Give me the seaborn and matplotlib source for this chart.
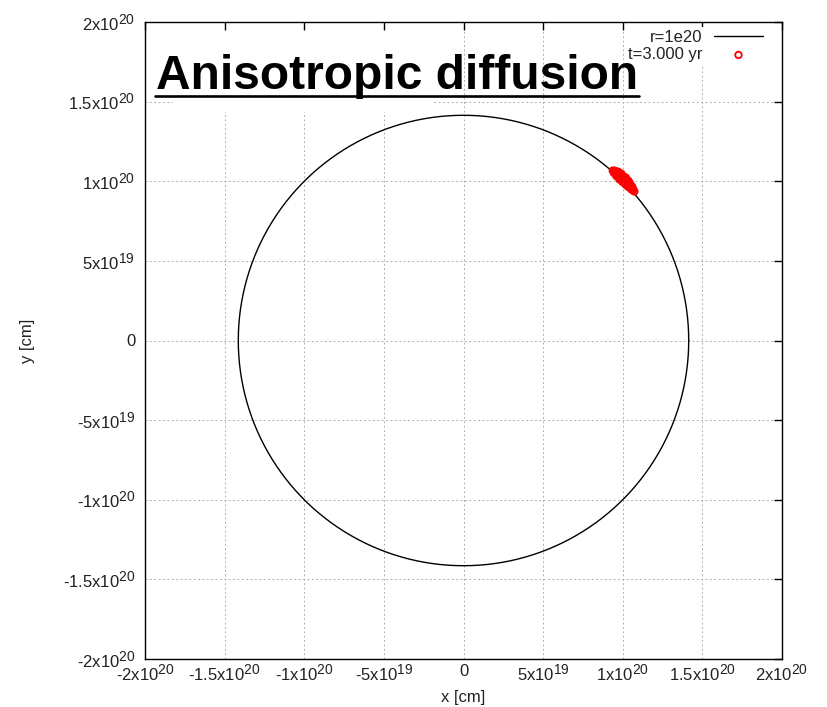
import numpy as np
import pandas as pd
import matplotlib
matplotlib.use("Agg")
import matplotlib.pyplot as plt
import matplotlib._mathtext as mathtext_internal
from matplotlib.lines import Line2D
from matplotlib.patches import Rectangle
import seaborn as sns

# Reference orbit: circle through the point (r, r)
r_ref = 1e20
circle_label = "r=1e20"

# Particle positions after 3 yr (polar angle in degrees, radius in units of 1e20 cm)
theta_deg = [48.7, 48.4, 48.1, 47.9, 47.6, 47.4, 47.1, 46.9, 46.6, 46.4,
             46.1, 45.9, 45.6, 45.4, 45.1, 44.9, 44.6, 44.4, 44.1, 43.9,
             43.6, 43.4, 43.1, 42.9, 42.6, 42.4, 42.1, 41.8, 41.5, 41.1]
radius_1e20 = [1.420, 1.426, 1.414, 1.432, 1.416, 1.438, 1.410, 1.430, 1.442, 1.414,
               1.434, 1.408, 1.440, 1.420, 1.444, 1.410, 1.436, 1.416, 1.442, 1.412,
               1.432, 1.438, 1.414, 1.430, 1.420, 1.434, 1.418, 1.428, 1.422, 1.424]
points_label = "t=3.000 yr"

tick_values = [-2e20, -1.5e20, -1e20, -5e19, 0, 5e19, 1e20, 1.5e20, 2e20]
tick_labels = [r"-$\mathregular{2x10^{20}}$", r"-$\mathregular{1.5x10^{20}}$",
               r"-$\mathregular{1x10^{20}}$", r"-$\mathregular{5x10^{19}}$", "0",
               r"$\mathregular{5x10^{19}}$", r"$\mathregular{1x10^{20}}$",
               r"$\mathregular{1.5x10^{20}}$", r"$\mathregular{2x10^{20}}$"]

title_text = "Anisotropic diffusion"

sns.set_theme(style="white")
plt.rcParams["font.family"] = ["Liberation Sans", "DejaVu Sans"]
plt.rcParams["mathtext.fontset"] = "custom"
plt.rcParams["mathtext.rm"] = "Liberation Sans"
plt.rcParams["axes.unicode_minus"] = False
# larger exponents in the tick labels
mathtext_internal.SHRINK_FACTOR = 0.83

W, H = 827, 707
fig = plt.figure(figsize=(W / 100, H / 100), dpi=100)
ax = fig.add_axes([145 / W, (H - 659) / H, 637 / W, 637 / H])

# circle data
R = np.hypot(r_ref, r_ref)
phi = np.linspace(0, 2 * np.pi, 361)
circle = pd.DataFrame({"x": R * np.cos(phi), "y": R * np.sin(phi)})

th = np.deg2rad(np.array(theta_deg))
rad = np.array(radius_1e20) * 1e20
pts = pd.DataFrame({"x": rad * np.cos(th), "y": rad * np.sin(th)})

sns.lineplot(data=circle, x="x", y="y", sort=False, estimator=None, color="black",
             linewidth=1.0, ax=ax, label=circle_label, zorder=3)
sns.scatterplot(data=pts, x="x", y="y", marker="o", s=22, facecolor="none",
                edgecolor="red", linewidth=1.3, ax=ax, label=points_label, zorder=4)

ax.set_xlim(-2e20, 2e20)
ax.set_ylim(-2e20, 2e20)
ax.set_xticks(tick_values)
ax.set_xticklabels(tick_labels)
ax.set_yticks(tick_values)
ax.set_yticklabels(tick_labels)
ax.tick_params(axis="both", direction="in", length=6, width=1, colors="black",
               labelsize=12, top=True, right=True)
ax.tick_params(axis="x", pad=3.5)
ax.tick_params(axis="y", pad=7)
for lab in ax.get_xticklabels() + ax.get_yticklabels():
    lab.set_color("#222222")

ax.set_axisbelow(True)
ax.grid(True, color="#b0b0b0", linestyle=(0, (2, 2.5)), linewidth=0.7)
for sp in ax.spines.values():
    sp.set_color("black")
    sp.set_linewidth(1.0)

ax.set_xlabel("x [cm]", fontsize=12, color="#222222")
ax.set_ylabel("y [cm]", fontsize=12, color="#222222")
ax.xaxis.set_label_coords(0.5, (659 - 690) / 637)
ax.yaxis.set_label_coords((35 - 145) / 637, 0.5)

leg = ax.legend(loc="upper right", bbox_to_anchor=((766 - 145) / 637, (659 - 27) / 637),
                markerfirst=False, frameon=True, framealpha=1, fancybox=False,
                edgecolor="none", facecolor="white", borderaxespad=0, borderpad=0.2,
                handlelength=2.9, handletextpad=0.7, labelspacing=0.12, fontsize=12)
for t in leg.get_texts():
    t.set_color("#222222")

# white panel behind the heading
ax.add_patch(Rectangle(((173 - 145) / 637, (659 - 112) / 637), (432 - 173) / 637,
                       (112 - 31) / 637, transform=ax.transAxes, facecolor="white",
                       edgecolor="none", zorder=1))

# heading, sized to span x = 155..639 px, underlined
title = fig.text(156 / W, (H - 89) / H, title_text, fontsize=30, fontweight="bold",
                 family=["Liberation Sans", "DejaVu Sans"], color="black",
                 ha="left", va="baseline", zorder=10)
fig.canvas.draw()
bb = title.get_window_extent()
title.set_fontsize(30 * 482 / bb.width)
fig.canvas.draw()
bb = title.get_window_extent()
fig.add_artist(Line2D([(bb.x0 - 1) / W, (bb.x1 + 1) / W], [(H - 96) / H] * 2,
                      transform=fig.transFigure, color="black", linewidth=1.9, zorder=10))

fig.savefig("out.png", dpi=100)
